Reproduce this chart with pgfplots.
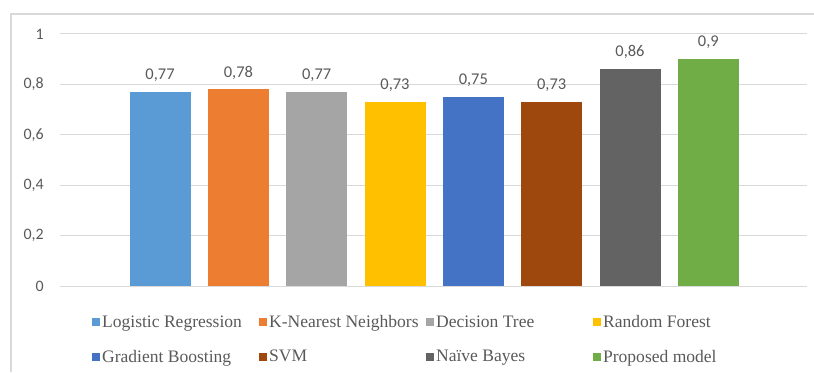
\documentclass[border=0pt]{standalone}
\usepackage{pgfplots}
\pgfplotsset{compat=1.18}
\usepackage{fontspec}
\setmainfont{Liberation Serif}
\newfontfamily\calibri{Carlito}

\definecolor{cLR}{HTML}{5B9BD5}
\definecolor{cKNN}{HTML}{ED7D31}
\definecolor{cDT}{HTML}{A5A5A5}
\definecolor{cRF}{HTML}{FFC000}
\definecolor{cGB}{HTML}{4472C4}
\definecolor{cSVM}{HTML}{9E480E}
\definecolor{cNB}{HTML}{636363}
\definecolor{cPM}{HTML}{70AD47}
\definecolor{gridgray}{HTML}{D9D9D9}
\definecolor{framegray}{HTML}{D9D9D9}
\definecolor{labelgray}{HTML}{595959}

\newcommand{\entry}[1]{\makebox[155bp][l]{#1}}

\begin{document}
\begin{tikzpicture}[x=1bp,y=1bp]
\useasboundingbox (0,0) rectangle (814,372);
\draw[framegray, line width=1.2bp] (11,0) -- (11,358) -- (815,358);
\begin{axis}[
  at={(60bp,86bp)}, anchor=south west,
  scale only axis, width=747bp, height=252bp,
  xmin=-1.277, xmax=8.26, ymin=0, ymax=1,
  ybar, bar width=61bp,
  xtick=\empty,
  ytick={0,0.2,0.4,0.6,0.8,1},
  ymajorgrids, grid style={gridgray, line width=1bp},
  axis line style={draw=none},
  major tick length=0pt,
  /pgf/number format/use comma,
  /pgf/number format/assume math mode=true,
  yticklabel style={font=\calibri\fontsize{16}{16}\selectfont, text=labelgray,
    inner sep=0pt, xshift=-16bp},
  nodes near coords={\pgfmathprintnumber{\pgfplotspointmeta}},
  nodes near coords style={font=\calibri\fontsize{16.5}{16.5}\selectfont,
    text=labelgray, anchor=south, inner sep=0pt, yshift=10bp},
  legend columns=4,
  legend style={at={(0.0428,-0.108)}, anchor=north west, draw=none, fill=none,
    font=\fontsize{17.6}{17.6}\selectfont, text=labelgray,
    /tikz/every even column/.append style={column sep=0bp},
    row sep=17bp, inner sep=0pt},
  legend image code/.code={\fill[#1] (0bp,-4bp) rectangle (8bp,4bp);},
]
\addplot[fill=cLR,  draw=none, bar shift=0pt] coordinates {(0,0.77)};
\addlegendentry{\entry{Logistic Regression}}
\addplot[fill=cKNN, draw=none, bar shift=0pt] coordinates {(1,0.78)};
\addlegendentry{\entry{K-Nearest Neighbors}}
\addplot[fill=cDT,  draw=none, bar shift=0pt] coordinates {(2,0.77)};
\addlegendentry{\entry{Decision Tree}}
\addplot[fill=cRF,  draw=none, bar shift=0pt] coordinates {(3,0.73)};
\addlegendentry{\entry{Random Forest}}
\addplot[fill=cGB,  draw=none, bar shift=0pt] coordinates {(4,0.75)};
\addlegendentry{\entry{Gradient Boosting}}
\addplot[fill=cSVM, draw=none, bar shift=0pt] coordinates {(5,0.73)};
\addlegendentry{\entry{SVM}}
\addplot[fill=cNB,  draw=none, bar shift=0pt] coordinates {(6,0.86)};
\addlegendentry{\entry{Naïve Bayes}}
\addplot[fill=cPM,  draw=none, bar shift=0pt] coordinates {(7,0.9)};
\addlegendentry{\entry{Proposed model}}
\end{axis}
\end{tikzpicture}
\end{document}
